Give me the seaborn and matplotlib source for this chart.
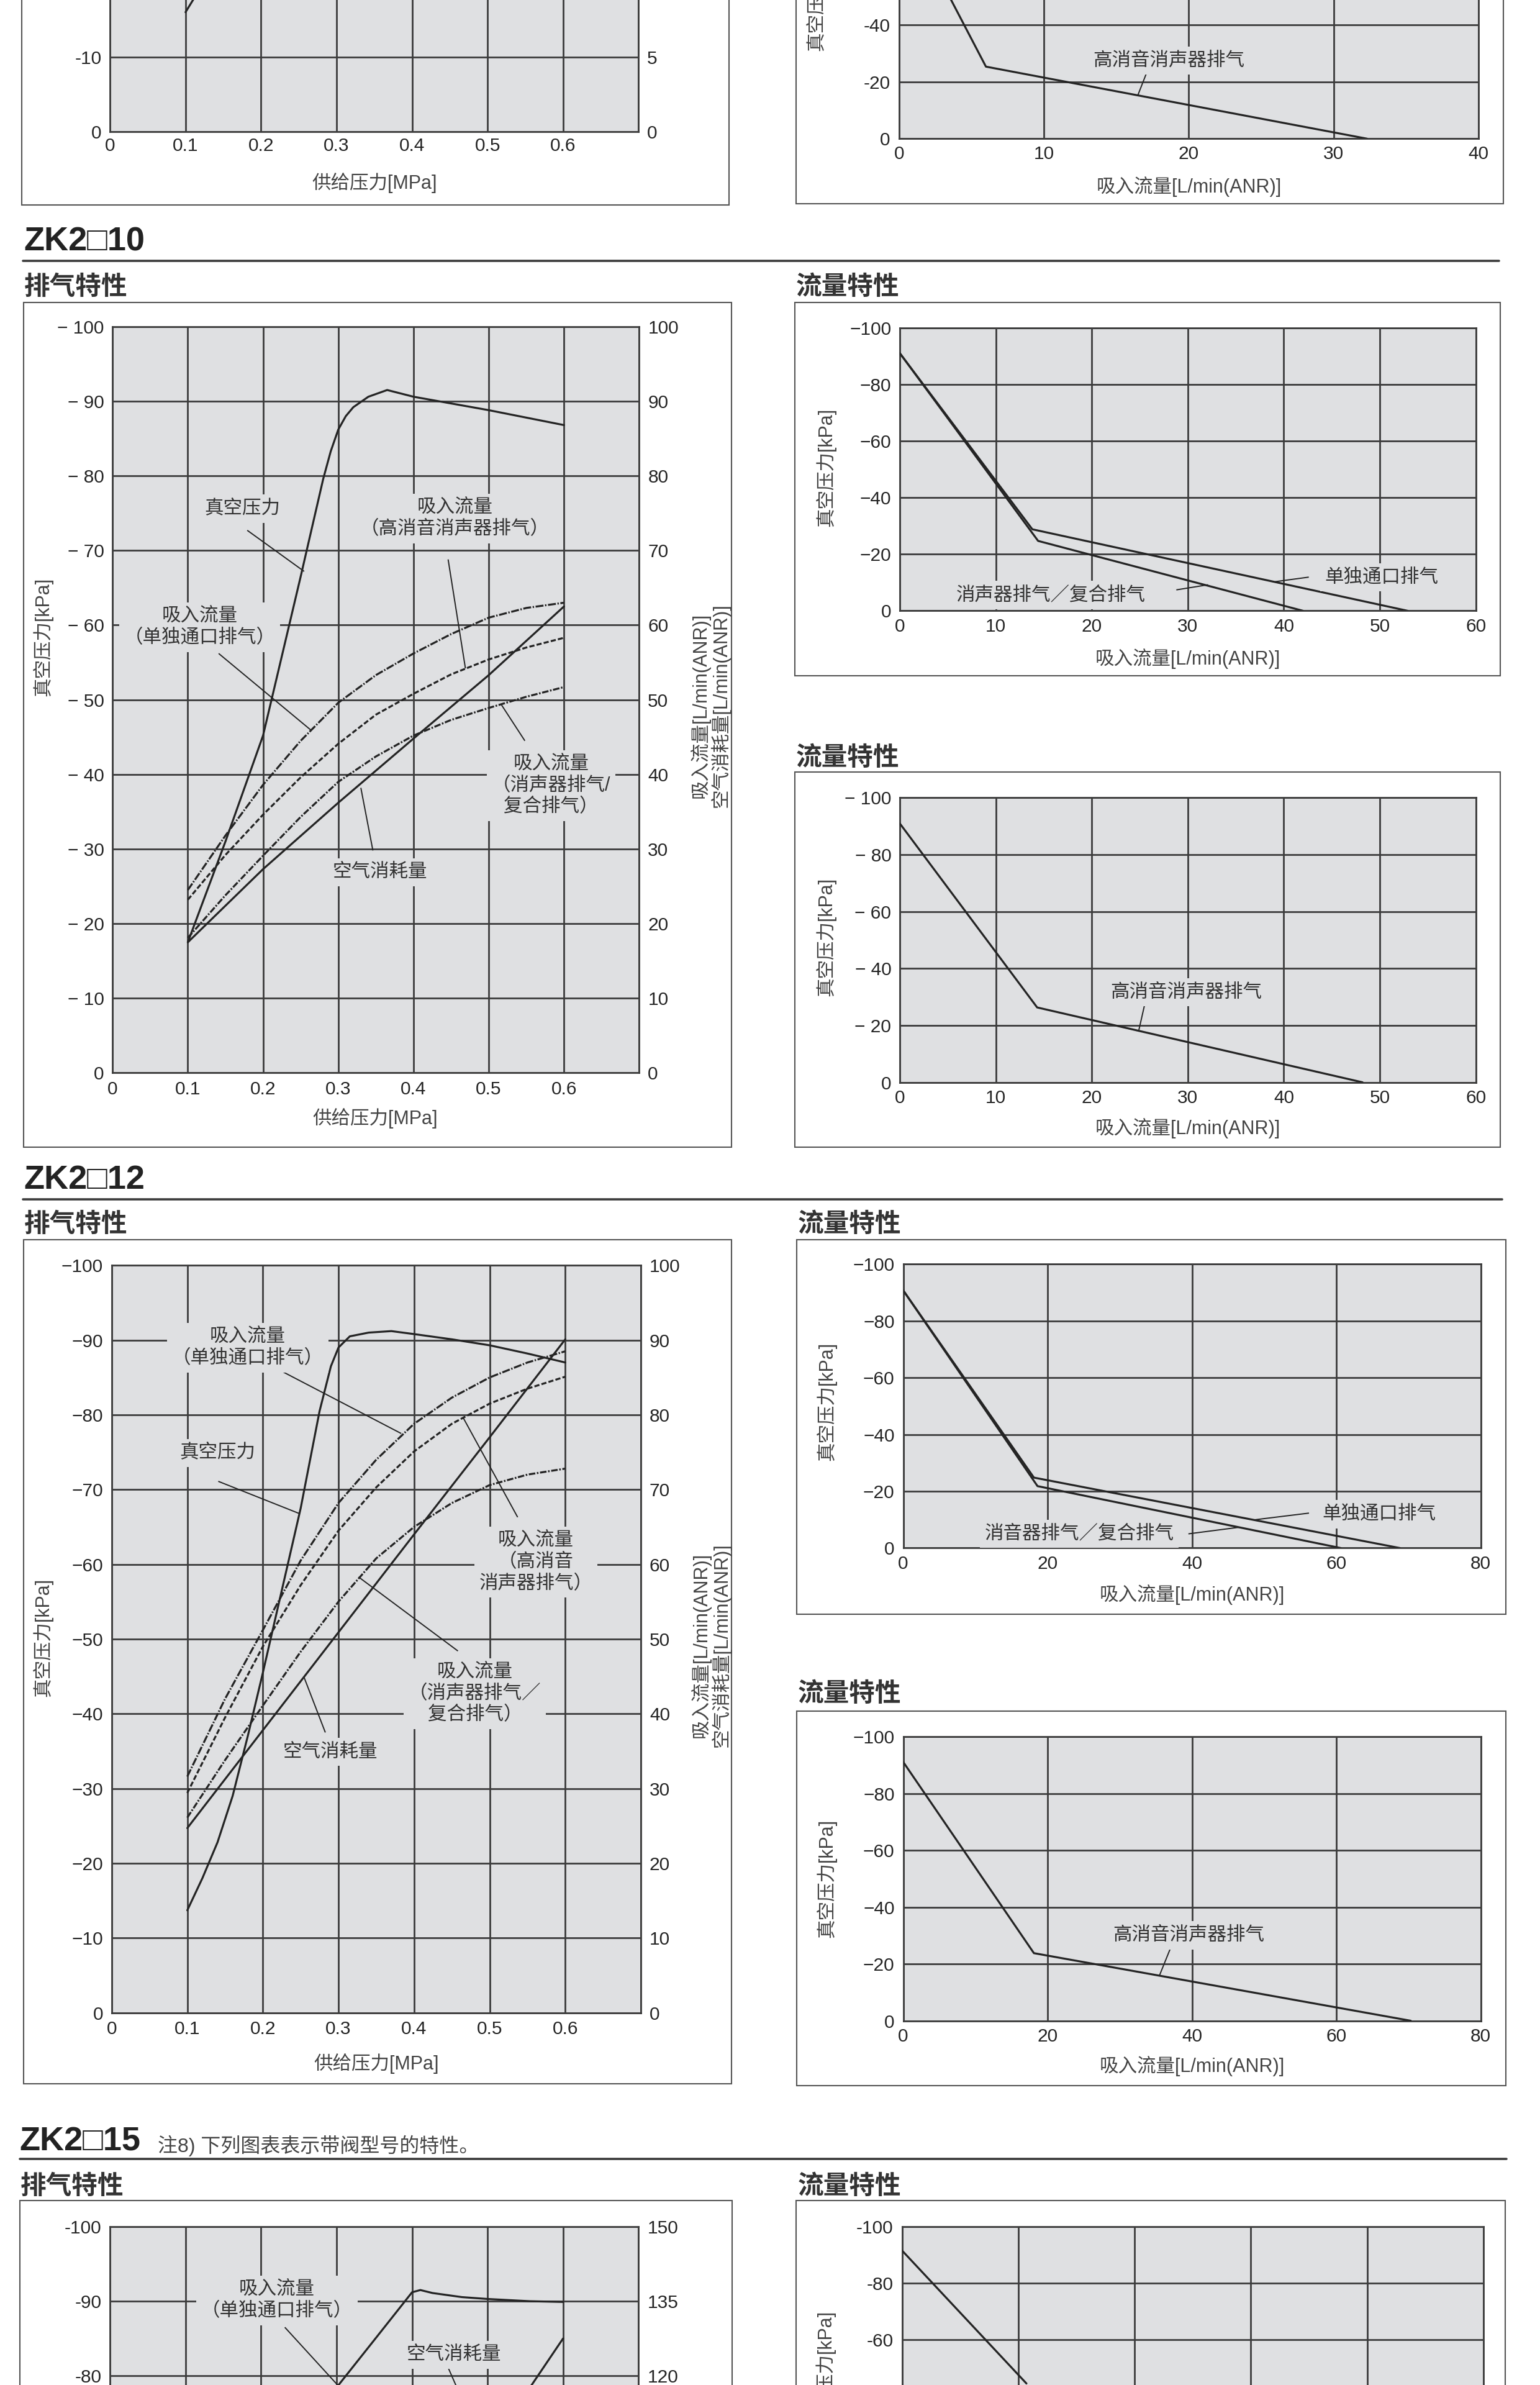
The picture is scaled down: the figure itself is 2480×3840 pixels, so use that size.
import matplotlib
matplotlib.use("Agg")
import matplotlib.pyplot as plt
import numpy as np
import pandas as pd
import seaborn as sns
from matplotlib.patches import Rectangle
from matplotlib.lines import Line2D

# ======================= DATA =======================
# supply pressure grid of the suction-flow curves [MPa]
P_SUP = [0.10, 0.15, 0.20, 0.25, 0.30, 0.35, 0.40, 0.45, 0.50, 0.55, 0.60]

# previous model (only the lower edge is visible at the top of the page)
PREV_VAC_P = [0.10, 0.12]
PREV_VAC_KPA = [-16.0, -19.3]
PREV_Q_HIGH = [2.5, 6.0, 32.3]
PREV_QV_HIGH = [-59.4, -25.3, 0.0]

# ZK2□10 exhaust characteristics
ZK10_VAC_P = [0.10, 0.15, 0.20, 0.25, 0.28, 0.29, 0.30, 0.31, 0.32, 0.34, 0.365, 0.40, 0.45, 0.50, 0.55, 0.60]
ZK10_VAC_KPA = [-17.5, -31.0, -45.2, -66.5, -79.6, -83.3, -86.2, -88.0, -89.2, -90.6, -91.5, -90.6, -89.7, -88.8, -87.8, -86.8]
ZK10_SUC_SINGLE = [24.5, 31.8, 38.6, 44.5, 49.6, 53.3, 56.2, 58.8, 61.0, 62.3, 63.0]
ZK10_SUC_HIGH = [23.2, 29.2, 34.6, 39.6, 44.1, 48.0, 50.8, 53.4, 55.4, 57.0, 58.3]
ZK10_SUC_SIL = [18.1, 23.8, 29.1, 34.3, 39.0, 42.4, 45.2, 47.3, 48.9, 50.4, 51.7]
ZK10_AIR_P = [0.10, 0.20, 0.30, 0.40, 0.50, 0.60]
ZK10_AIR = [17.5, 27.3, 36.2, 44.8, 53.3, 62.5]
# ZK2□10 flow characteristics
ZK10_Q_SINGLE = [0.0, 13.8, 52.9]
ZK10_QV_SINGLE = [-91.0, -28.8, 0.0]
ZK10_Q_SIL = [0.0, 14.4, 42.0]
ZK10_QV_SIL = [-91.0, -24.7, 0.0]
ZK10_Q_HIGH = [0.0, 14.3, 48.2]
ZK10_QV_HIGH = [-90.9, -26.3, 0.0]

# ZK2□12 exhaust characteristics
ZK12_VAC_P = [0.10, 0.12, 0.14, 0.16, 0.18, 0.20, 0.225, 0.25, 0.275, 0.29, 0.30, 0.315, 0.34, 0.37, 0.40, 0.45, 0.50, 0.55, 0.60]
ZK12_VAC_KPA = [-13.7, -18.0, -22.8, -29.0, -37.0, -45.5, -56.5, -67.5, -80.5, -86.5, -89.0, -90.5, -91.0, -91.2, -90.8, -90.1, -89.3, -88.2, -87.0]
ZK12_SUC_SINGLE = [31.6, 42.0, 51.2, 60.5, 68.2, 74.0, 78.8, 82.3, 85.0, 87.0, 88.5]
ZK12_SUC_HIGH = [29.4, 39.5, 49.0, 57.2, 64.5, 70.3, 75.1, 78.8, 81.5, 83.5, 85.1]
ZK12_SUC_SIL = [26.1, 33.8, 41.1, 48.3, 55.0, 60.8, 65.0, 68.2, 70.6, 72.0, 72.8]
ZK12_AIR_P = [0.10, 0.20, 0.30, 0.40, 0.50, 0.60]
ZK12_AIR = [24.7, 37.8, 50.9, 64.0, 77.0, 90.1]
# ZK2□12 flow characteristics
ZK12_Q_SINGLE = [0.0, 18.1, 68.8]
ZK12_QV_SINGLE = [-90.7, -24.8, 0.0]
ZK12_Q_SIL = [0.0, 18.6, 60.6]
ZK12_QV_SIL = [-90.7, -21.8, 0.0]
ZK12_Q_HIGH = [0.0, 18.1, 70.3]
ZK12_QV_HIGH = [-91.1, -23.8, 0.0]

# ZK2□15 (only the upper edge is visible at the bottom of the page)
ZK15_VAC_P = [0.25, 0.303, 0.35, 0.40, 0.411, 0.427, 0.466, 0.50, 0.556, 0.60]
ZK15_VAC_KPA = [-72.6, -78.8, -84.8, -91.2, -91.5, -91.1, -90.55, -90.3, -90.0, -89.9]
ZK15_AIR_P = [0.54, 0.60]
ZK15_AIR = [114.0, 127.5]
ZK15_Q = [0.0, 21.4]
ZK15_QV = [-91.6, -44.6]

# ---- tick values / labels ----
EXH_X_TICKS = [0, 0.1, 0.2, 0.3, 0.4, 0.5, 0.6, 0.7]
EXH_X_LABELS = ["0", "0.1", "0.2", "0.3", "0.4", "0.5", "0.6", ""]
EXH_X_HIDDEN = ["", "", "", "", "", "", "", ""]
VAC10_TICKS = [0, -10, -20, -30, -40, -50, -60, -70, -80, -90, -100]
VAC10_LABELS_SP = ["0", "− 10", "− 20", "− 30", "− 40", "− 50", "− 60", "− 70", "− 80", "− 90", "− 100"]
VAC10_LABELS = ["0", "−10", "−20", "−30", "−40", "−50", "−60", "−70", "−80", "−90", "−100"]
VAC10_LABELS_TOPCUT = ["0", "-10", "", "", "", "", "", "", "", "", ""]
VAC10_LABELS_BOTCUT = ["", "", "", "", "", "", "", "", "-80", "-90", "-100"]
FLOW100_TICKS = [0, 10, 20, 30, 40, 50, 60, 70, 80, 90, 100]
FLOW100_LABELS = ["0", "10", "20", "30", "40", "50", "60", "70", "80", "90", "100"]
FLOW50_TICKS = [0, 5, 10, 15, 20, 25, 30, 35, 40, 45, 50]
FLOW50_LABELS_TOPCUT = ["0", "5", "", "", "", "", "", "", "", "", ""]
FLOW150_TICKS = [0, 15, 30, 45, 60, 75, 90, 105, 120, 135, 150]
FLOW150_LABELS_BOTCUT = ["", "", "", "", "", "", "", "", "120", "135", "150"]
VAC20_TICKS = [0, -20, -40, -60, -80, -100]
VAC20_LABELS = ["0", "−20", "−40", "−60", "−80", "−100"]
VAC20_LABELS_SP = ["0", "− 20", "− 40", "− 60", "− 80", "− 100"]
VAC20_LABELS_TOPCUT = ["0", "-20", "-40", "", "", ""]
VAC20_LABELS_BOTCUT = ["", "", "", "-60", "-80", "-100"]
Q40_TICKS = [0, 10, 20, 30, 40]
Q40_LABELS = ["0", "10", "20", "30", "40"]
Q60_TICKS = [0, 10, 20, 30, 40, 50, 60]
Q60_LABELS = ["0", "10", "20", "30", "40", "50", "60"]
Q80_TICKS = [0, 20, 40, 60, 80]
Q80_LABELS = ["0", "20", "40", "60", "80"]
Q100_TICKS = [0, 20, 40, 60, 80, 100]
Q100_HIDDEN = ["", "", "", "", "", ""]

# ======================= STYLE =======================
sns.set_theme(style="white")
plt.rcParams["font.family"] = ["Liberation Sans", "Noto Sans CJK SC", "DejaVu Sans"]

BG = "#dfe0e2"
GRID = "#3c3c3c"
INK = "#242424"
NOTE_INK = "#333333"
LABEL_INK = "#444444"
BOX_EDGE = "#555555"
GRID_LW = 2.0
CURVE_LW = 2.3
FS_TICK = 21.5
FS_LABEL = 22
FS_NOTE = 22
FS_TITLE = 30
FS_HEAD = 39
LS_SINGLE = (0, (4.0, 0.8, 0.7, 0.8))
LS_HIGH = (0, (2.6, 1.1))
LS_SIL = (0, (3.3, 0.8, 0.8, 0.8))

fig = plt.figure(figsize=(24.8, 38.4), dpi=100)
fig.patch.set_facecolor("white")
W = 1015.0
H = 1015.0 * 3840.0 / 2480.0


def fx(x):
    return x / W


def fy(y):
    return 1.0 - y / H


def add_ax(x0, x1, y0, y1):
    return fig.add_axes([fx(x0), fy(y1), (x1 - x0) / W, (y1 - y0) / H])


def add_box(x0, x1, y0, y1):
    fig.add_artist(Rectangle((fx(x0), fy(y1)), (x1 - x0) / W, (y1 - y0) / H,
                             transform=fig.transFigure, facecolor="white",
                             edgecolor=BOX_EDGE, linewidth=1.5, zorder=-10))


def ftext(x, y, s, **kw):
    fig.text(fx(x), fy(y), s, **kw)


def header(x, y, name, rule_x0, rule_x1, rule_y, note=None):
    ftext(x, y, name, fontsize=FS_HEAD, fontweight="bold", color="#222222", ha="left", va="center")
    if note:
        ftext(x + 91.0, y + 2.5, note, fontsize=23, color="#444444", ha="left", va="center")
    fig.add_artist(Line2D([fx(rule_x0), fx(rule_x1)], [fy(rule_y), fy(rule_y)],
                          transform=fig.transFigure, color="#3a3a3a", linewidth=2.6))


def title(x, y, s):
    ftext(x, y, s, fontsize=FS_TITLE, fontweight="bold", color="#333333", ha="left", va="center")


def base_style(ax, xlim, xt, xl, yt, yl, xpad=9, ypad=10):
    ax.set_facecolor(BG)
    ax.set_xlim(*xlim)
    ax.set_ylim(0, -100)
    ax.set_xticks(xt)
    ax.set_xticklabels(xl)
    ax.set_yticks(yt)
    ax.set_yticklabels(yl)
    ax.grid(True, color=GRID, linewidth=GRID_LW)
    ax.set_axisbelow(True)
    for s in ax.spines.values():
        s.set_visible(True)
        s.set_color(GRID)
        s.set_linewidth(GRID_LW)
    ax.tick_params(axis="both", length=0, labelsize=FS_TICK, labelcolor=INK)
    ax.tick_params(axis="x", pad=xpad)
    ax.tick_params(axis="y", pad=ypad)
    ax.set_xlabel("")
    ax.set_ylabel("")


def twin_style(tw, top, yt, yl):
    tw.set_ylim(0, top)
    tw.set_yticks(yt)
    tw.set_yticklabels(yl)
    tw.grid(False)
    for s in tw.spines.values():
        s.set_visible(False)
    tw.tick_params(axis="y", length=0, labelsize=FS_TICK, labelcolor=INK, pad=10)
    tw.set_ylabel("")
    tw.set_xlabel("")


def curve(ax, xs, ys, ls="-"):
    df = pd.DataFrame({"x": xs, "y": ys})
    sns.lineplot(data=df, x="x", y="y", ax=ax, color=INK, linewidth=CURVE_LW,
                 linestyle=ls, sort=False, estimator=None, legend=False, zorder=3)
    ax.set_xlabel("")
    ax.set_ylabel("")


def note(ax, x, y, s, lx=None, ly=None, box=True):
    kw = dict(ha="center", va="center", fontsize=FS_NOTE, color=NOTE_INK,
              linespacing=1.2, zorder=7, multialignment="center")
    if box:
        kw["bbox"] = dict(boxstyle="square,pad=0.25", facecolor=BG, edgecolor="none")
    ax.text(x, y, s, **kw)
    if lx is not None:
        ax.plot(lx, ly, color=INK, linewidth=1.4, zorder=6, solid_capstyle="butt")


def exh_labels(ylab_x, ylab_y, rlab_x, rlab_y, xlab_x, xlab_y):
    ftext(ylab_x, ylab_y, "真空压力[kPa]", rotation=90, fontsize=FS_LABEL, color=LABEL_INK,
          ha="center", va="center")
    ftext(rlab_x, rlab_y, "吸入流量[L/min(ANR)]\n空气消耗量[L/min(ANR)]", rotation=90,
          fontsize=FS_LABEL, color=LABEL_INK, ha="center", va="center", linespacing=1.0,
          multialignment="center")
    ftext(xlab_x, xlab_y, "供给压力[MPa]", fontsize=FS_LABEL, color=LABEL_INK, ha="center", va="center")


def flow_labels(ylab_x, ylab_y, xlab_x, xlab_y):
    if ylab_y is not None:
        ftext(ylab_x, ylab_y, "真空压力[kPa]", rotation=90, fontsize=FS_LABEL, color=LABEL_INK,
              ha="center", va="center")
    if xlab_y is not None:
        ftext(xlab_x, xlab_y, "吸入流量[L/min(ANR)]", fontsize=FS_LABEL, color=LABEL_INK,
              ha="center", va="center")


# ================= previous section (bottom edge) =================
add_box(14.2, 480.5, -800, 135.1)
ax = add_ax(72.5, 420.9, -404.4, 86.6)
tw = ax.twinx()
curve(ax, PREV_VAC_P, PREV_VAC_KPA)
base_style(ax, (0, 0.7), EXH_X_TICKS, EXH_X_LABELS, VAC10_TICKS, VAC10_LABELS_TOPCUT, xpad=7)
twin_style(tw, 50, FLOW50_TICKS, FLOW50_LABELS_TOPCUT)
ftext(246.7, 120.7, "供给压力[MPa]", fontsize=FS_LABEL, color=LABEL_INK, ha="center", va="center")

add_box(524.5, 990.9, -800, 134.4)
ax = add_ax(592.5, 974.6, -96.3, 91.4)
curve(ax, PREV_Q_HIGH, PREV_QV_HIGH)
base_style(ax, (0, 40), Q40_TICKS, Q40_LABELS, VAC20_TICKS, VAC20_LABELS_TOPCUT, xpad=8)
note(ax, 18.6, -27.5, "高消音消声器排气", [17.2, 16.5], [-24.6, -15.5])
flow_labels(537.5, -5.7, 783.5, 122.8)

# ================= ZK2□10 =================
header(15.7, 159.3, "ZK2□10", 15.0, 988.0, 171.7)
title(16.0, 189.3, "排气特性")
title(524.6, 189.3, "流量特性")

add_box(15.7, 482.3, 199.3, 756.0)
ax = add_ax(74.2, 421.3, 215.2, 707.0)
tw = ax.twinx()
curve(ax, ZK10_VAC_P, ZK10_VAC_KPA)
curve(tw, P_SUP, ZK10_SUC_SINGLE, LS_SINGLE)
curve(tw, P_SUP, ZK10_SUC_HIGH, LS_HIGH)
curve(tw, P_SUP, ZK10_SUC_SIL, LS_SIL)
curve(tw, ZK10_AIR_P, ZK10_AIR)
base_style(ax, (0, 0.7), EXH_X_TICKS, EXH_X_LABELS, VAC10_TICKS, VAC10_LABELS_SP)
twin_style(tw, 100, FLOW100_TICKS, FLOW100_LABELS)
note(tw, 0.1725, 75.6, "真空压力", [0.179, 0.2546], [72.7, 67.2])
note(tw, 0.455, 74.3, "吸入流量\n（高消音消声器排气）", [0.446, 0.469], [68.8, 54.2])
note(tw, 0.1156, 59.7, "吸入流量\n（单独通口排气）", [0.141, 0.264], [56.2, 45.9])
note(tw, 0.583, 38.5, "吸入流量\n（消声器排气/\n复合排气）", [0.548, 0.517], [44.5, 49.3])
note(tw, 0.3557, 26.9, "空气消耗量", [0.346, 0.330], [29.8, 38.2])
exh_labels(28.2, 419.8, 468.0, 464.9, 247.3, 736.8)

add_box(523.7, 988.7, 199.4, 445.1)
ax = add_ax(593.1, 972.7, 216.0, 402.5)
curve(ax, ZK10_Q_SINGLE, ZK10_QV_SINGLE)
curve(ax, ZK10_Q_SIL, ZK10_QV_SIL)
base_style(ax, (0, 60), Q60_TICKS, Q60_LABELS, VAC20_TICKS, VAC20_LABELS, xpad=8)
note(ax, 50.2, -11.9, "单独通口排气", [42.6, 39.1], [-11.9, -10.3])
note(ax, 15.7, -5.6, "消声器排气／复合排气", [28.8, 32.1], [-7.4, -9.2])
flow_labels(544.4, 308.0, 782.9, 434.0)

title(524.6, 499.6, "流量特性")
add_box(523.7, 988.7, 508.9, 755.8)
ax = add_ax(593.1, 972.7, 525.6, 713.2)
curve(ax, ZK10_Q_HIGH, ZK10_QV_HIGH)
base_style(ax, (0, 60), Q60_TICKS, Q60_LABELS, VAC20_TICKS, VAC20_LABELS_SP, xpad=8)
note(ax, 29.8, -31.6, "高消音消声器排气", [25.5, 24.9], [-27.3, -18.4])
flow_labels(544.4, 617.5, 782.9, 743.6)

# ================= ZK2□12 =================
header(15.7, 777.8, "ZK2□12", 15.0, 990.0, 790.2)
title(16.0, 807.0, "排气特性")
title(526.0, 807.0, "流量特性")

add_box(15.7, 482.3, 816.9, 1373.1)
ax = add_ax(73.6, 422.4, 833.8, 1326.3)
tw = ax.twinx()
curve(ax, ZK12_VAC_P, ZK12_VAC_KPA)
curve(tw, P_SUP, ZK12_SUC_SINGLE, LS_SINGLE)
curve(tw, P_SUP, ZK12_SUC_HIGH, LS_HIGH)
curve(tw, P_SUP, ZK12_SUC_SIL, LS_SIL)
curve(tw, ZK12_AIR_P, ZK12_AIR)
base_style(ax, (0, 0.7), EXH_X_TICKS, EXH_X_LABELS, VAC10_TICKS, VAC10_LABELS)
twin_style(tw, 100, FLOW100_TICKS, FLOW100_LABELS)
note(tw, 0.180, 89.0, "吸入流量\n（单独通口排气）", [0.2198, 0.383], [86.1, 77.5])
note(tw, 0.140, 74.9, "真空压力", [0.141, 0.248], [71.1, 66.8])
note(tw, 0.561, 60.3, "吸入流量\n（高消音\n消声器排气）", [0.537, 0.465], [66.3, 79.6])
note(tw, 0.4805, 42.7, "吸入流量\n（消声器排气／\n复合排气）", [0.458, 0.3266], [48.4, 58.3])
note(tw, 0.289, 34.9, "空气消耗量", [0.2826, 0.2544], [37.5, 44.9])
exh_labels(28.2, 1078.8, 468.5, 1084.2, 248.0, 1359.8)

add_box(525.2, 992.5, 817.0, 1063.5)
ax = add_ax(595.3, 976.0, 832.9, 1020.1)
curve(ax, ZK12_Q_SINGLE, ZK12_QV_SINGLE)
curve(ax, ZK12_Q_SIL, ZK12_QV_SIL)
base_style(ax, (0, 80), Q80_TICKS, Q80_LABELS, VAC20_TICKS, VAC20_LABELS, xpad=8)
note(ax, 65.9, -11.9, "单独通口排气", [56.2, 48.5], [-12.3, -9.9])
note(ax, 24.4, -5.0, "消音器排气／复合排气", [39.5, 46.5], [-5.0, -7.3])
flow_labels(544.5, 923.5, 785.6, 1051.0)

title(526.0, 1116.5, "流量特性")
add_box(525.2, 992.5, 1127.7, 1374.2)
ax = add_ax(595.3, 976.0, 1144.4, 1331.6)
curve(ax, ZK12_Q_HIGH, ZK12_QV_HIGH)
base_style(ax, (0, 80), Q80_TICKS, Q80_LABELS, VAC20_TICKS, VAC20_LABELS, xpad=8)
note(ax, 39.5, -30.1, "高消音消声器排气", [37.2, 35.5], [-26.7, -16.0])
flow_labels(544.5, 1238.0, 785.6, 1361.5)

# ================= ZK2□15 (top edge) =================
header(12.9, 1411.5, "ZK2□15", 12.9, 993.0, 1422.7, note="注8) 下列图表表示带阀型号的特性。")
title(13.5, 1441.0, "排气特性")
title(525.9, 1441.0, "流量特性")

add_box(12.9, 482.5, 1450.0, 2300.0)
ax = add_ax(72.5, 420.9, 1467.3, 1958.3)
tw = ax.twinx()
curve(ax, ZK15_VAC_P, ZK15_VAC_KPA)
curve(tw, ZK15_AIR_P, ZK15_AIR)
base_style(ax, (0, 0.7), EXH_X_TICKS, EXH_X_HIDDEN, VAC10_TICKS, VAC10_LABELS_BOTCUT)
twin_style(tw, 150, FLOW150_TICKS, FLOW150_LABELS_BOTCUT)
note(ax, 0.221, -90.1, "吸入流量\n（单独通口排气）", [0.2315, 0.31], [-86.5, -77.8])
note(ax, 0.455, -82.8, "空气消耗量", [0.446, 0.462], [-81.5, -77.8])

add_box(524.5, 992.1, 1450.0, 2300.0)
ax = add_ax(594.5, 977.8, 1467.3, 1653.8)
curve(ax, ZK15_Q, ZK15_QV)
base_style(ax, (0, 100), Q100_TICKS, Q100_HIDDEN, VAC20_TICKS, VAC20_LABELS_BOTCUT)
flow_labels(544.0, 1561.5, None, None)

fig.savefig("out.png", dpi=100, facecolor="white")
